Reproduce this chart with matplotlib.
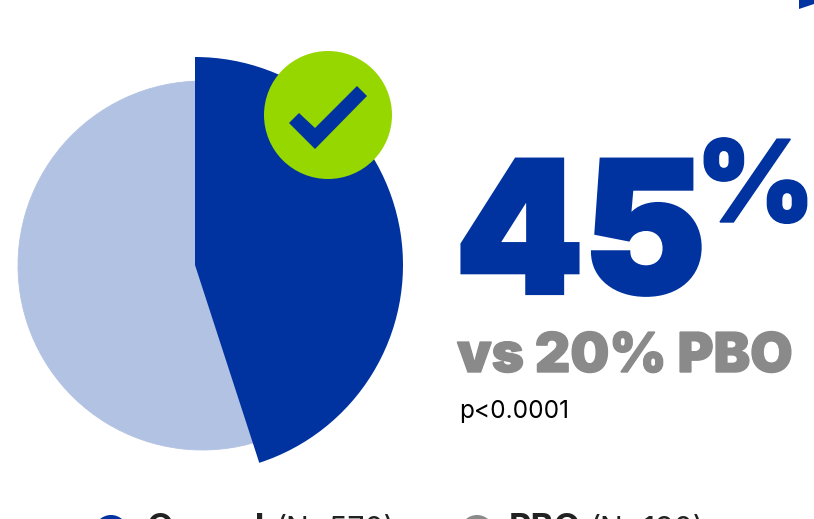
import matplotlib
matplotlib.use('Agg')
import matplotlib.pyplot as plt
import matplotlib.patheffects as pe
from matplotlib.patches import Circle, Polygon

BLUE = '#0033a0'
LIGHT_BLUE = '#b2c2e3'
GREEN = '#97d700'
GREY = '#8a8a8a'
DARK = '#222222'

rates = [45, 55]
big_label = '45'
pct_label = '%'
compare_label = 'vs 20% PBO'
p_label = 'p<0.0001'
legend_names = ['Ozanek', 'PBO']
legend_counts = ['(N=570)', '(N=190)']
legend_colors = [BLUE, GREY]

plt.rcParams['font.family'] = ['Inter', 'Roboto', 'DejaVu Sans']


def heavy(color, width):
    # square-cornered outline to fatten the black weight
    return [pe.withStroke(linewidth=width, foreground=color, joinstyle='miter')]


fig = plt.figure(figsize=(8.14, 5.19), dpi=100)
ax = fig.add_axes([0, 0, 1, 1])

# pale disc goes behind, the larger response wedge overlaps it
ax.pie(rates, colors=[LIGHT_BLUE, LIGHT_BLUE], center=(202.5, 265.5), radius=184.5,
       startangle=-90, frame=False, wedgeprops={'linewidth': 0.6, 'edgecolor': LIGHT_BLUE})
wedges = ax.pie(rates, colors=[BLUE, 'none'], center=(195, 265), radius=208,
                startangle=-90, frame=False, wedgeprops={'linewidth': 0})[0]
ax.set_xlim(0, 814)
ax.set_ylim(519, 0)
ax.set_aspect('equal')
ax.axis('off')

# check badge
ax.add_patch(Circle((328, 115), 64, color=GREEN, lw=0, zorder=3))
ax.add_patch(Polygon([(289, 123), (299, 113), (315, 128), (357, 86), (367, 96), (315, 149)],
                     color=BLUE, lw=0, zorder=4))

# corner of a shape running off the top right
ax.add_patch(Polygon([(799, 0), (814, 0), (814, 4), (799, 9)], color=BLUE, lw=0))

ax.text(455, 293, big_label, color=BLUE, fontsize=132, fontweight='black',
        va='baseline', path_effects=heavy(BLUE, 3))
ax.text(696, 222, pct_label, color=BLUE, fontsize=82, fontweight='black',
        va='baseline', path_effects=heavy(BLUE, 1))
ax.text(457, 372, compare_label, color=GREY, fontsize=39.5, fontweight='black', va='baseline',
        path_effects=heavy(GREY, 1))
ax.text(459, 418, p_label, color='black', fontsize=17.6, va='baseline')

# legend row sits at the bottom edge and is cut by it
dot_x = [111, 477]
name_x = [146, 509]
count_x = [276, 590]
for i in range(2):
    ax.add_patch(Circle((dot_x[i], 532), 17, color=legend_colors[i], lw=0))
    ax.text(name_x[i], 538, legend_names[i], color=DARK, fontsize=25, fontweight='bold', va='baseline')
    ax.text(count_x[i], 538, legend_counts[i], color=DARK, fontsize=21.8, va='baseline')

fig.savefig('out.png', dpi=100)
